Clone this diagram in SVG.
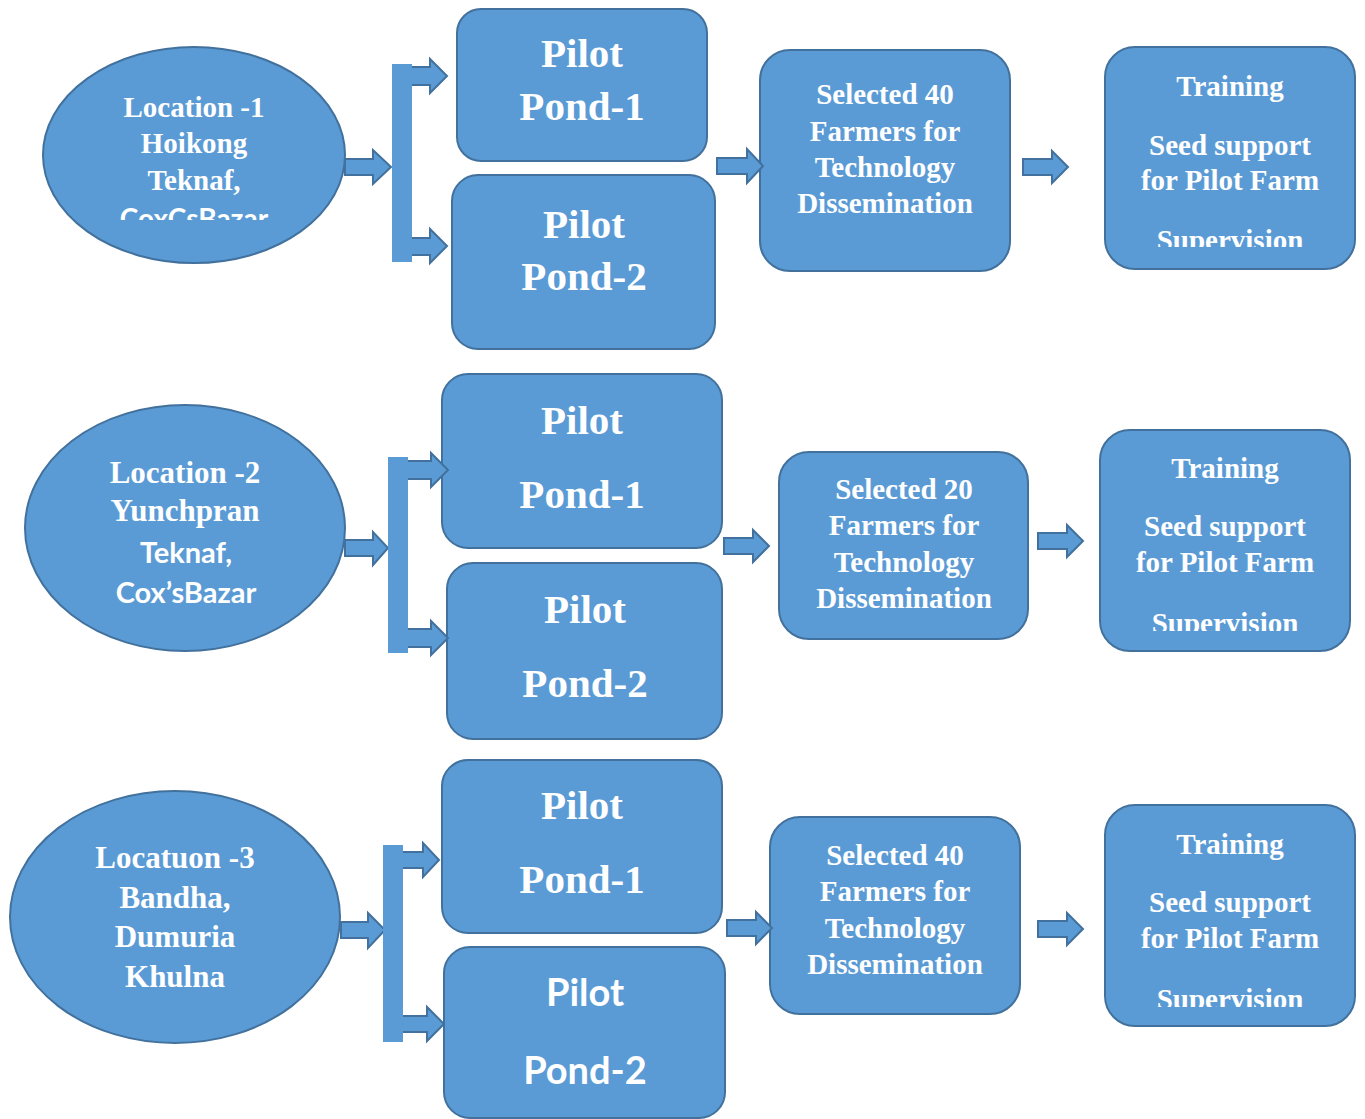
<svg xmlns="http://www.w3.org/2000/svg" width="1365" height="1119" viewBox="0 0 1365 1119">
<style>
.n { fill: #5B9BD5; stroke: #41719C; stroke-width: 2; }
.a { fill: #5B9BD5; stroke: #41719C; stroke-width: 2; stroke-linejoin: miter; }
.bar { fill: #5B9BD5; stroke: none; }
.t { font-family: "Liberation Serif", "Times New Roman", serif; font-weight: bold; fill: #fff; text-anchor: middle; }
.c { font-family: Lato, "Liberation Sans", sans-serif; font-weight: bold; fill: #fff; text-anchor: middle; }
.s29 { font-size: 29px; }
.s31 { font-size: 31px; }
.s41 { font-size: 41px; }
</style>
<defs>
<clipPath id="clipE1"><rect x="40" y="40" width="310" height="180"/></clipPath>
<clipPath id="clipT1"><rect x="1100" y="40" width="260" height="207"/></clipPath>
<clipPath id="clipT2"><rect x="1095" y="420" width="260" height="211"/></clipPath>
<clipPath id="clipT3"><rect x="1100" y="800" width="260" height="207"/></clipPath>
</defs>
<rect width="1365" height="1119" fill="#fff"/>

<g id="loc1">
<ellipse class="n" cx="194" cy="155" rx="151" ry="108"/>
<g clip-path="url(#clipE1)">
<text class="t s29" x="194" y="117">Location -1</text>
<text class="t s29" x="194" y="153">Hoikong</text>
<text class="t s29" x="194" y="190">Teknaf,</text>
<text class="c" font-size="28" x="194" y="229">CoxCsBazar</text>
</g>
</g>
<g id="r1p1"><rect class="n" x="457" y="9" width="250" height="152" rx="24"/>
<text class="t s41" x="582" y="67">Pilot</text><text class="t s41" x="582" y="120">Pond-1</text></g>
<g id="r1p2"><rect class="n" x="452" y="175" width="263" height="174" rx="26"/>
<text class="t s41" x="584" y="238">Pilot</text><text class="t s41" x="584" y="290">Pond-2</text></g>
<g id="r1sel"><rect class="n" x="760" y="50" width="250" height="221" rx="30"/>
<text class="t s29" x="885" y="104">Selected 40</text><text class="t s29" x="885" y="141">Farmers for</text>
<text class="t s29" x="885" y="177">Technology</text><text class="t s29" x="885" y="213">Dissemination</text></g>
<g id="r1tr"><rect class="n" x="1105" y="47" width="250" height="222" rx="30"/>
<g clip-path="url(#clipT1)">
<text class="t s29" x="1230" y="96">Training</text><text class="t s29" x="1230" y="155">Seed support</text>
<text class="t s29" x="1230" y="190">for Pilot Farm</text><text class="t s29" x="1230" y="250">Supervision</text></g></g>

<g id="loc2">
<ellipse class="n" cx="185" cy="528" rx="160" ry="123"/>
<text class="t s31" x="185" y="483">Location -2</text>
<text class="t s31" x="185" y="521">Yunchpran</text>
<text class="c" font-size="29" x="186" y="563">Teknaf,</text>
<text class="c" font-size="29" x="186" y="603">Cox’sBazar</text>
</g>
<g id="r2p1"><rect class="n" x="442" y="374" width="280" height="174" rx="26"/>
<text class="t s41" x="582" y="434">Pilot</text><text class="t s41" x="582" y="508">Pond-1</text></g>
<g id="r2p2"><rect class="n" x="447" y="563" width="275" height="176" rx="26"/>
<text class="t s41" x="585" y="623">Pilot</text><text class="t s41" x="585" y="697">Pond-2</text></g>
<g id="r2sel"><rect class="n" x="779" y="452" width="249" height="187" rx="30"/>
<text class="t s29" x="904" y="499">Selected 20</text><text class="t s29" x="904" y="535">Farmers for</text>
<text class="t s29" x="904" y="572">Technology</text><text class="t s29" x="904" y="608">Dissemination</text></g>
<g id="r2tr"><rect class="n" x="1100" y="430" width="250" height="221" rx="30"/>
<g clip-path="url(#clipT2)">
<text class="t s29" x="1225" y="478">Training</text><text class="t s29" x="1225" y="536">Seed support</text>
<text class="t s29" x="1225" y="572">for Pilot Farm</text><text class="t s29" x="1225" y="633">Supervision</text></g></g>

<g id="loc3">
<ellipse class="n" cx="175" cy="917" rx="165" ry="126"/>
<text class="t s31" x="175" y="868">Locatuon -3</text>
<text class="t s31" x="175" y="908">Bandha,</text>
<text class="t s31" x="175" y="947">Dumuria</text>
<text class="t s31" x="175" y="987">Khulna</text>
</g>
<g id="r3p1"><rect class="n" x="442" y="760" width="280" height="173" rx="26"/>
<text class="t s41" x="582" y="819">Pilot</text><text class="t s41" x="582" y="893">Pond-1</text></g>
<g id="r3p2"><rect class="n" x="444" y="947" width="281" height="171" rx="26"/>
<text class="c" font-size="38" x="585" y="1006">Pilot</text><text class="c" font-size="38" x="585" y="1084">Pond-2</text></g>
<g id="r3sel"><rect class="n" x="770" y="817" width="250" height="197" rx="30"/>
<text class="t s29" x="895" y="865">Selected 40</text><text class="t s29" x="895" y="901">Farmers for</text>
<text class="t s29" x="895" y="938">Technology</text><text class="t s29" x="895" y="974">Dissemination</text></g>
<g id="r3tr"><rect class="n" x="1105" y="805" width="250" height="221" rx="30"/>
<g clip-path="url(#clipT3)">
<text class="t s29" x="1230" y="854">Training</text><text class="t s29" x="1230" y="912">Seed support</text>
<text class="t s29" x="1230" y="948">for Pilot Farm</text><text class="t s29" x="1230" y="1009">Supervision</text></g></g>

<g id="connectors">
<polygon class="a" points="345,159 373,159 373,150 391,167 373,184 373,175 345,175"/>
<polygon class="a" points="410,67 430,67 430,59 447,76 430,93 430,85 410,85"/>
<polygon class="a" points="410,238 430,238 430,229 447,246 430,263 430,255 410,255"/>
<rect class="bar" x="392" y="64" width="20" height="198"/>
<polygon class="a" points="717,158 747,158 747,149 763,166 747,183 747,174 717,174"/>
<polygon class="a" points="1023,159 1052,159 1052,151 1068,167 1052,183 1052,175 1023,175"/>
<polygon class="a" points="345,540 373,540 373,532 388,548 373,565 373,556 345,556"/>
<polygon class="a" points="406,461 431,461 431,453 448,470 431,487 431,479 406,479"/>
<polygon class="a" points="406,629 431,629 431,621 448,638 431,655 431,647 406,647"/>
<rect class="bar" x="388" y="457" width="20" height="196"/>
<polygon class="a" points="724,538 753,538 753,530 769,546 753,562 753,554 724,554"/>
<polygon class="a" points="1038,533 1067,533 1067,525 1083,541 1067,557 1067,549 1038,549"/>
<polygon class="a" points="341,922 368,922 368,913 385,930 368,948 368,938 341,938"/>
<polygon class="a" points="401,852 423,852 423,843 439,860 423,877 423,868 401,868"/>
<polygon class="a" points="401,1016 427,1016 427,1007 444,1024 427,1041 427,1032 401,1032"/>
<rect class="bar" x="383" y="845" width="20" height="197"/>
<polygon class="a" points="727,920 756,920 756,912 772,928 756,944 756,936 727,936"/>
<polygon class="a" points="1038,921 1067,921 1067,913 1083,929 1067,945 1067,937 1038,937"/>
</g>
</svg>
